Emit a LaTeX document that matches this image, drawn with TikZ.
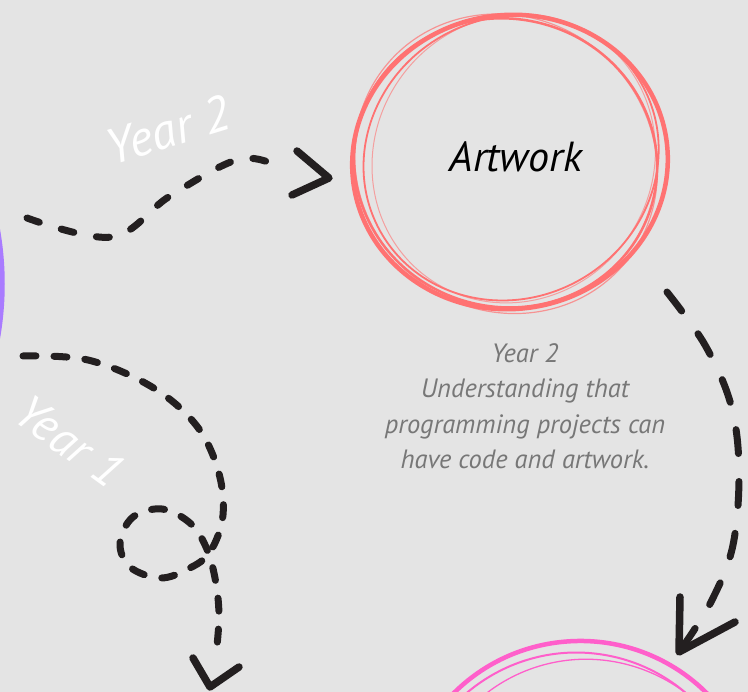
\documentclass[tikz,border=0pt]{standalone}
\usepackage{fontspec}
\setmainfont{PT Sans}
\definecolor{bg}{HTML}{E4E4E4}
\definecolor{ink}{HTML}{231F20}
\definecolor{redc}{HTML}{FF7272}
\definecolor{pinkc}{HTML}{FF5FCB}
\definecolor{purplec}{HTML}{A97BFF}
\definecolor{grayt}{HTML}{777777}
\tikzset{
  dashline/.style={draw=ink, line width=7pt, line cap=round, line join=round},
  arrowhd/.style={draw=ink, line width=7.5pt, line cap=round, line join=round},
  redstroke/.style={draw=redc, line width=#1},
  pinkstroke/.style={draw=pinkc, line width=#1},
  handfont/.style={font=\fontsize{#1}{#1}\selectfont\itshape}
}
\begin{document}
\begin{tikzpicture}[x=1pt,y=-1pt]
\useasboundingbox (0,0) rectangle (748,692);
\fill[bg] (0,0) rectangle (748,692);
\begin{scope}
\clip (0,0) rectangle (748,692);
% purple circle edge
\draw[purplec, line width=5.5pt] (-310,284) circle [radius=312];
% red sketch circle
\coordinate (rc) at (510,162);
\draw[redstroke=4.5pt, rotate around={8:(rc)}] (rc) ellipse [x radius=158, y radius=147];
\draw[redstroke=2.5pt, rotate around={-15:(rc)}] ([shift={(-4,2)}]rc) ellipse [x radius=152, y radius=144];
\draw[redstroke=1.8pt, rotate around={30:(rc)}] ([shift={(3,-3)}]rc) ellipse [x radius=150, y radius=140];
\draw[redstroke=1.2pt, opacity=0.7, rotate around={-40:(rc)}] ([shift={(-2,4)}]rc) ellipse [x radius=155, y radius=146];
\draw[redstroke=1pt, opacity=0.6, rotate around={55:(rc)}] ([shift={(5,1)}]rc) ellipse [x radius=147, y radius=139];
% pink sketch circle
\coordinate (pc) at (580,817);
\draw[pinkstroke=4.5pt, rotate around={5:(pc)}] (pc) ellipse [x radius=178, y radius=176];
\draw[pinkstroke=2pt, rotate around={-10:(pc)}] ([shift={(-3,8)}]pc) ellipse [x radius=170, y radius=172];
\draw[pinkstroke=1.3pt, rotate around={20:(pc)}] ([shift={(4,12)}]pc) ellipse [x radius=165, y radius=168];
\end{scope}
% texts
\node[handfont=42, text=black] (art) at (516,157) {Artwork};
\node[align=center, text=grayt, font=\fontsize{26.5}{35.5}\selectfont\itshape] (desc) at (525,406)
  {Year 2\\Understanding that\\programming projects can\\have code and artwork.};
\node[handfont=50, text=white, rotate=17] (y2) at (168,130) {Year 2};
\node[handfont=48, text=white, rotate=-36] (y1) at (70,441) {Year 1};
% top arrow
\coordinate (t0) at (27,218);
\coordinate (t1) at (112,237);
\coordinate (t2) at (170,196);
\coordinate (t3) at (240,159);
\coordinate (t4) at (284,169);
\draw[dashline, dash pattern=on 13pt off 23pt] plot[smooth, tension=0.6] coordinates {(t0) (t1) (t2) (t3) (t4)};
\coordinate (ta) at (297,151);
\coordinate (tt) at (329,178);
\coordinate (tb) at (292,195);
\draw[arrowhd] (ta) -- (tt) -- (tb);
% right arrow
\coordinate (r0) at (667,292);
\coordinate (r1) at (705,345);
\coordinate (r2) at (731,405);
\coordinate (r3) at (739,470);
\coordinate (r4) at (733,545);
\coordinate (r5) at (712,600);
\coordinate (r6) at (684,645);
\draw[dashline, dash pattern=on 24pt off 28pt] plot[smooth, tension=0.6] coordinates {(r0) (r1) (r2) (r3) (r4) (r5) (r6)};
\coordinate (ra) at (680,597);
\coordinate (rt) at (679,652);
\coordinate (rb) at (735,622);
\draw[arrowhd] (ra) -- (rt) -- (rb);
% bottom-left arrow with loop
\coordinate (b0) at (23,356);
\coordinate (b1) at (88,360);
\coordinate (b2) at (152,387);
\coordinate (b3) at (196,425);
\coordinate (b4) at (218,470);
\coordinate (b5) at (223,515);
\coordinate (b6) at (210,552);
\coordinate (b7) at (188,569);
\coordinate (b8) at (160,578);
\coordinate (b9) at (130,567);
\coordinate (b10) at (120,543);
\coordinate (b11) at (133,517);
\coordinate (b12) at (162,509);
\coordinate (b13) at (190,523);
\coordinate (b14) at (206,547);
\coordinate (b15) at (215,578);
\coordinate (b16) at (219,615);
\coordinate (b17) at (216,655);
\draw[dashline, dash pattern=on 13pt off 18pt] plot[smooth, tension=0.6] coordinates {(b0) (b1) (b2) (b3) (b4) (b5) (b6) (b7) (b8) (b9) (b10) (b11) (b12) (b13) (b14) (b15) (b16) (b17)};
\coordinate (ba) at (193,658);
\coordinate (bt) at (210,687);
\coordinate (bb) at (239,667);
\draw[arrowhd] (ba) -- (bt) -- (bb);
\end{tikzpicture}
\end{document}
